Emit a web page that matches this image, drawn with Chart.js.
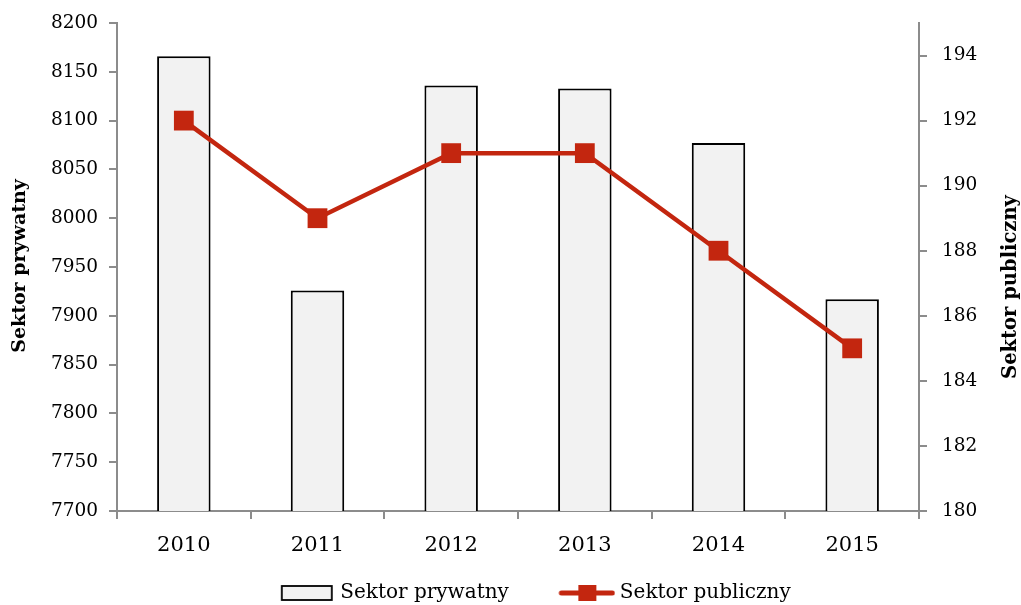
<!DOCTYPE html>
<html>
<head>
<meta charset="utf-8">
<script src="https://cdn.jsdelivr.net/npm/chart.js@4.4.1/dist/chart.umd.min.js"></script>
<style>
  html, body { margin: 0; padding: 0; background: #ffffff; }
  #wrap { width: 1021px; height: 605px; }
</style>
</head>
<body>
<div id="wrap"><canvas id="c" width="1021" height="605"></canvas></div>
<script>
const years = ['2010', '2011', '2012', '2013', '2014', '2015'];
const privateSector = [8166, 7926, 8136, 8133, 8077, 7917];
const publicSector = [192, 189, 191, 191, 188, 185];
const leftAxisRange = [7700, 8200, 50];
const rightAxisRange = [180, 195, 2];
const privateLabel = 'Sektor prywatny';
const publicLabel = 'Sektor publiczny';

const FONT = "'DejaVu Serif', serif";
const RED = '#C3260F';
const AXIS = '#8C8C8C';

// legend marker images (transparent left part used for spacing)
function makeRectImg() {
  const c = document.createElement('canvas');
  c.width = 84; c.height = 16;
  const x = c.getContext('2d');
  x.fillStyle = '#F2F2F2';
  x.fillRect(32, 1, 50, 14);
  x.strokeStyle = '#000';
  x.lineWidth = 1.8;
  x.strokeRect(32, 1, 50, 14);
  return c;
}
function makeLineImg() {
  const c = document.createElement('canvas');
  c.width = 88; c.height = 18;
  const x = c.getContext('2d');
  x.strokeStyle = RED;
  x.lineWidth = 5;
  x.lineCap = 'round';
  x.beginPath(); x.moveTo(34, 9); x.lineTo(85, 9); x.stroke();
  x.fillStyle = RED;
  x.fillRect(51, 1, 18, 16);
  return c;
}
const rectImg = makeRectImg();
const lineImg = makeLineImg();

const titlesPlugin = {
  id: 'axisTitles',
  afterDraw(chart) {
    const ctx = chart.ctx;
    ctx.save();
    ctx.font = "bold 19px " + FONT;
    ctx.fillStyle = '#000';
    ctx.textAlign = 'center';
    ctx.textBaseline = 'middle';
    ctx.translate(20, 266);
    ctx.rotate(-Math.PI / 2);
    ctx.fillText(privateLabel, 0, 0);
    ctx.restore();
    ctx.save();
    ctx.font = "bold 19.5px " + FONT;
    ctx.fillStyle = '#000';
    ctx.textAlign = 'center';
    ctx.textBaseline = 'middle';
    ctx.translate(1011, 287);
    ctx.rotate(-Math.PI / 2);
    ctx.fillText(publicLabel, 0, 0);
    ctx.restore();
  }
};

function noVPad(s) { s.paddingTop = 0; s.paddingBottom = 0; }

new Chart(document.getElementById('c'), {
  data: {
    labels: years,
    datasets: [
      {
        type: 'line',
        label: publicLabel,
        data: publicSector,
        yAxisID: 'y2',
        borderColor: RED,
        backgroundColor: RED,
        borderWidth: 4.5,
        pointStyle: 'rect',
        pointRadius: 14,
        pointHoverRadius: 14,
        pointBorderWidth: 0,
        tension: 0,
        order: 1
      },
      {
        type: 'bar',
        label: privateLabel,
        data: privateSector,
        yAxisID: 'y',
        backgroundColor: '#F2F2F2',
        borderColor: '#000000',
        borderWidth: 2,
        categoryPercentage: 1,
        barPercentage: 0.4,
        order: 2
      }
    ]
  },
  options: {
    responsive: false,
    animation: false,
    devicePixelRatio: 1,
    layout: { padding: { left: 48, right: 25, top: 23, bottom: -8 } },
    plugins: {
      tooltip: { enabled: false },
      legend: {
        position: 'bottom',
        labels: {
          font: { family: FONT, size: 20 },
          color: '#000',
          usePointStyle: true,
          pointStyleWidth: 77,
          boxHeight: 16,
          padding: 24,
          generateLabels() {
            return [
              { text: privateLabel, pointStyle: rectImg, fillStyle: '#F2F2F2', strokeStyle: '#000', lineWidth: 0, datasetIndex: 1 },
              { text: publicLabel, pointStyle: lineImg, fillStyle: RED, strokeStyle: RED, lineWidth: 0, datasetIndex: 0 }
            ];
          }
        }
      }
    },
    scales: {
      x: {
        offset: true,
        grid: { offset: true, drawOnChartArea: false, color: AXIS, tickLength: 8, lineWidth: 2 },
        border: { color: AXIS, width: 2 },
        ticks: { font: { family: FONT, size: 21 }, color: '#000', padding: 14 },
        afterFit(s) { s.height = 48; s.paddingLeft = 0; s.paddingRight = 0; }
      },
      y: {
        position: 'left',
        min: leftAxisRange[0],
        max: leftAxisRange[1],
        ticks: {
          stepSize: leftAxisRange[2],
          font: { family: FONT, size: 18.5 },
          color: '#000',
          padding: 11,
          callback: v => String(v)
        },
        grid: { drawOnChartArea: false, color: AXIS, tickLength: 8, lineWidth: 2 },
        border: { color: AXIS, width: 2 },
        afterFit(s) { s.width = 69; noVPad(s); }
      },
      y2: {
        position: 'right',
        min: rightAxisRange[0],
        max: rightAxisRange[1],
        ticks: {
          stepSize: rightAxisRange[2],
          font: { family: FONT, size: 18.5 },
          color: '#000',
          padding: 15,
          callback: v => String(v)
        },
        afterBuildTicks(s) { s.ticks = s.ticks.filter(t => t.value <= 194); },
        grid: { drawOnChartArea: false, color: AXIS, tickLength: 8, lineWidth: 2 },
        border: { color: AXIS, width: 2 },
        afterFit(s) { s.width = 77; noVPad(s); }
      }
    }
  },
  plugins: [titlesPlugin]
});
</script>
</body>
</html>
